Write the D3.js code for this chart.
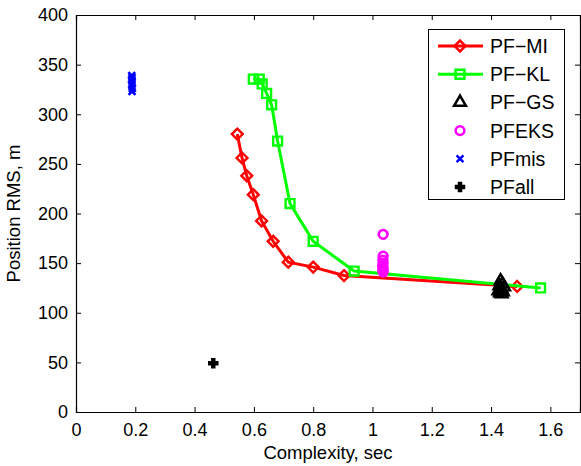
<!DOCTYPE html>
<html>
<head>
<meta charset="utf-8">
<script src="https://cdn.jsdelivr.net/npm/d3@7"></script>
<style>
  body { margin: 0; background: #fff; }
  text { font-family: "Liberation Sans", Arial, sans-serif; }
</style>
</head>
<body>
<div id="chart"></div>
<script>
// PF-MI curve
const miX = [0.544, 0.560, 0.576, 0.598, 0.626, 0.665, 0.716, 0.800, 0.904, 1.488];
const miY = [280, 256, 238, 219, 192.5, 172, 151, 146, 137.5, 126.5];
// PF-KL curve
const klX = [0.598, 0.618, 0.628, 0.643, 0.660, 0.680, 0.722, 0.800, 0.938, 1.567];
const klY = [335.5, 335.5, 330.5, 321, 309.5, 273, 210, 172, 142, 125];
// PF-GS cluster
const gsX = [1.432, 1.438, 1.428, 1.444, 1.435, 1.425, 1.440, 1.430, 1.436];
const gsY = [132, 129, 127, 126, 124, 122, 121, 120, 119];
// PFEKS cluster
const eksX = [1.036, 1.036, 1.035, 1.036, 1.034, 1.036, 1.035, 1.036];
const eksY = [179, 157, 153, 150, 147, 145, 143, 141];
// PFmis cluster
const misX = [0.188, 0.189, 0.188, 0.189, 0.188, 0.190, 0.189];
const misY = [339, 337, 335, 333, 330, 326, 323];
// PFall
const allX = [0.463];
const allY = [49];

const xTicks = [0, 0.2, 0.4, 0.6, 0.8, 1, 1.2, 1.4, 1.6];
const yTicks = [0, 50, 100, 150, 200, 250, 300, 350, 400];
const legendNames = ["PF\u2212MI", "PF\u2212KL", "PF\u2212GS", "PFEKS", "PFmis", "PFall"];

const W = 581, H = 466;
const m = { left: 76, right: 1, top: 15, bottom: 54 };

const svg = d3.select("#chart").append("svg")
  .attr("width", W).attr("height", H);

const x = d3.scaleLinear().domain([0, 1.7]).range([m.left, W - m.right]);
const y = d3.scaleLinear().domain([0, 400]).range([H - m.bottom, m.top]);

const zip = (xs, ys) => xs.map((v, i) => ({ x: v, y: ys[i] }));

// axes box with inward ticks
const tick = 5;
const xb = d3.axisBottom(x).tickValues(xTicks).tickSize(-tick).tickPadding(11)
  .tickFormat(d3.format("~g"));
const xt = d3.axisTop(x).tickValues(xTicks).tickSize(-tick).tickFormat("");
const yl = d3.axisLeft(y).tickValues(yTicks).tickSize(-tick).tickPadding(8);
const yr = d3.axisRight(y).tickValues(yTicks).tickSize(-tick).tickFormat("");

function styleAxis(g) {
  g.select(".domain").attr("stroke", "#000").attr("stroke-width", 1.2);
  g.selectAll(".tick line").attr("stroke", "#000");
  g.selectAll(".tick text").attr("font-size", 18).attr("fill", "#000")
    .style("font-family", "'Liberation Sans', Arial, sans-serif");
}

svg.append("g").attr("transform", `translate(0,${y(0)})`).call(xb).call(styleAxis);
svg.append("g").attr("transform", `translate(0,${y(400)})`).call(xt).call(styleAxis);
svg.append("g").attr("transform", `translate(${x(0)},0)`).call(yl).call(styleAxis);
svg.append("g").attr("transform", `translate(${x(1.7)},0)`).call(yr).call(styleAxis);

// axis titles
svg.append("text")
  .attr("x", (x(0) + x(1.7)) / 2).attr("y", 459)
  .attr("text-anchor", "middle").attr("font-size", 18.5)
  .text("Complexity, sec");
svg.append("text")
  .attr("transform", `translate(20,${(y(0) + y(400)) / 2}) rotate(-90)`)
  .attr("text-anchor", "middle").attr("font-size", 18.5)
  .text("Position RMS, m");

const line = d3.line().x(d => x(d.x)).y(d => y(d.y));

// marker drawing helpers
const diamond = d3.symbol().type(d3.symbolDiamond2).size(75);
const square = d3.symbol().type(d3.symbolSquare2).size(100);
const triangle = d3.symbol().type(d3.symbolTriangle).size(60);
const circle = d3.symbol().type(d3.symbolCircle).size(60);
const cross = d3.symbol().type(d3.symbolTimes).size(32);
const plus = d3.symbol().type(d3.symbolCross).size(45);

function drawLineSeries(data, color, sym) {
  svg.append("path").datum(data)
    .attr("d", line).attr("fill", "none")
    .attr("stroke", color).attr("stroke-width", 3);
  svg.selectAll(null).data(data).enter().append("path")
    .attr("transform", d => `translate(${x(d.x)},${y(d.y)})`)
    .attr("d", sym).attr("fill", "none")
    .attr("stroke", color).attr("stroke-width", 2.4);
}

drawLineSeries(zip(miX, miY), "#ff0000", diamond);
drawLineSeries(zip(klX, klY), "#00ff00", square);

function drawPoints(data, sym, fill, stroke, sw) {
  svg.selectAll(null).data(data).enter().append("path")
    .attr("transform", d => `translate(${x(d.x)},${y(d.y)})`)
    .attr("d", sym).attr("fill", fill)
    .attr("stroke", stroke).attr("stroke-width", sw);
}

drawPoints(zip(gsX, gsY), triangle, "none", "#000", 2.4);
drawPoints(zip(eksX, eksY), circle, "none", "#ff00ff", 2.6);
drawPoints(zip(misX, misY), cross, "none", "#0000ff", 2.6);
drawPoints(zip(allX, allY), plus, "#000", "#000", 1.5);

// legend
const lg = svg.append("g");
lg.append("rect").attr("x", 428.5).attr("y", 29.5).attr("width", 136).attr("height", 170)
  .attr("fill", "#fff").attr("stroke", "#000").attr("stroke-width", 1);

const legSyms = [
  { sym: diamond, color: "#ff0000", line: true },
  { sym: square, color: "#00ff00", line: true },
  { sym: triangle, color: "#000", line: false },
  { sym: circle, color: "#ff00ff", line: false },
  { sym: cross, color: "#0000ff", line: false },
  { sym: plus, color: "#000", line: false, fill: true }
];

legendNames.forEach((name, i) => {
  const cy = 46 + i * 28.2;
  const s = legSyms[i];
  if (s.line) {
    lg.append("line").attr("x1", 438).attr("x2", 483).attr("y1", cy).attr("y2", cy)
      .attr("stroke", s.color).attr("stroke-width", 3);
  }
  lg.append("path").attr("transform", `translate(460,${cy})`)
    .attr("d", s.sym).attr("fill", s.fill ? s.color : "none")
    .attr("stroke", s.color).attr("stroke-width", s.fill ? 1.5 : 2.5);
  lg.append("text").attr("x", 490).attr("y", cy + 7)
    .attr("font-size", 19.5).text(name);
});
</script>
</body>
</html>
